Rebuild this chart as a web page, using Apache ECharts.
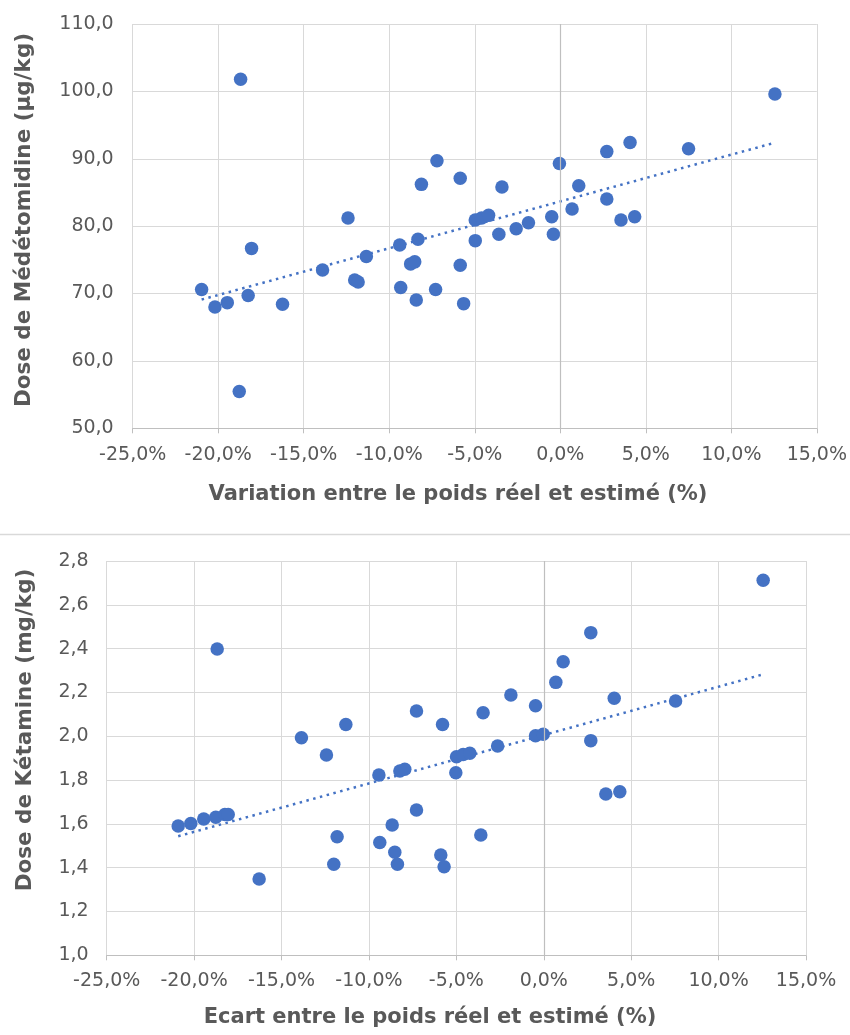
<!DOCTYPE html>
<html>
<head>
<meta charset="utf-8">
<script src="https://cdn.jsdelivr.net/npm/echarts@6/dist/echarts.min.js"></script>
<style>
html,body{margin:0;padding:0;background:#fff;}
#chart{width:850px;height:1035px;}
</style>
</head>
<body>
<div id="chart"></div>
<script>
// ---- Data: Médétomidine chart ----
const xMed = [-20.97,-20.19,-19.47,-18.77,-18.69,-18.25,-18.05,-16.24,-13.9,-12.41,-12.02,-11.82,-11.34,-9.39,-9.33,-8.75,-8.51,-8.42,-8.32,-8.12,-7.29,-7.21,-5.85,-5.85,-5.65,-4.97,-4.97,-4.6,-4.19,-3.59,-3.41,-2.58,-1.86,-0.5,-0.4,-0.05,0.69,1.08,2.72,2.72,3.55,4.08,4.35,7.5,12.55];
const yMed = [70.6,68.0,68.65,55.45,101.8,69.7,76.7,68.4,73.5,81.2,72.0,71.7,75.5,77.2,70.9,74.4,74.7,69.05,78.05,86.2,70.6,89.7,87.1,74.2,68.5,80.9,77.85,81.2,81.6,78.8,85.8,79.6,80.5,81.4,78.8,89.3,82.55,86.0,91.06,84.04,80.9,92.4,81.4,91.5,99.6];
// ---- Data: Kétamine chart ----
const xKet = [-20.91,-20.19,-19.45,-18.76,-18.68,-18.24,-18.05,-16.28,-13.86,-12.43,-12.01,-11.82,-11.32,-9.43,-9.38,-8.67,-8.52,-8.37,-8.23,-7.95,-7.28,-7.28,-5.79,-5.89,-5.7,-4.99,-5.03,-4.61,-4.23,-3.6,-3.47,-2.64,-1.88,-0.47,-0.47,-0.03,0.69,1.11,2.69,2.69,3.55,4.03,4.35,7.54,12.55];
const yKet = [1.59,1.602,1.622,1.63,2.398,1.643,1.643,1.348,1.993,1.914,1.416,1.541,2.054,1.823,1.515,1.595,1.47,1.416,1.841,1.849,2.115,1.663,2.054,1.458,1.404,1.906,1.833,1.917,1.922,1.549,2.107,1.955,2.188,2.139,2.002,2.009,2.246,2.34,2.473,1.98,1.736,2.173,1.747,2.161,2.712];
// ---- Axis ticks ----
const xTicks = {min:-25, max:15, interval:5};
const yMedTicks = {min:50, max:110, interval:10};
const yKetTicks = {min:1.0, max:2.8, interval:0.2};
const titles = {
  xMed: 'Variation entre le poids réel et estimé (%)',
  yMed: 'Dose de Médétomidine (µg/kg)',
  xKet: 'Ecart entre le poids réel et estimé (%)',
  yKet: 'Dose de Kétamine (mg/kg)'
};

function pairs(xs, ys){ return xs.map((x,i)=>[x, ys[i]]); }
function trend(xs, ys){
  const n = xs.length;
  let sx=0, sy=0, sxx=0, sxy=0;
  for(let i=0;i<n;i++){ sx+=xs[i]; sy+=ys[i]; sxx+=xs[i]*xs[i]; sxy+=xs[i]*ys[i]; }
  const b = (n*sxy - sx*sy)/(n*sxx - sx*sx);
  const a = (sy - b*sx)/n;
  const x0 = Math.min(...xs), x1 = Math.max(...xs);
  return [[x0, a+b*x0],[x1, a+b*x1]];
}

const FONT = 'DejaVu Sans';
const BLUE = '#4472C4';
const GRID = '#d9d9d9';
const AXIS = '#bfbfbf';
const TXT = '#595959';
const comma = (v, d) => v.toFixed(d).replace('.', ',');

function xAxisCfg(gridIndex, margin){
  return {
    type:'value', gridIndex, min:xTicks.min, max:xTicks.max, interval:xTicks.interval,
    axisLine:{show:true, onZero:false, lineStyle:{color:AXIS, width:1}},
    axisTick:{show:true, length:5, lineStyle:{color:AXIS}},
    splitLine:{show:true, lineStyle:{color:GRID, width:1}},
    axisLabel:{color:TXT, fontFamily:FONT, fontSize:19, margin, formatter:v=>comma(v,1)+'%'}
  };
}
function yAxisCfg(gridIndex, t, dec, margin){
  return {
    type:'value', gridIndex, min:t.min, max:t.max, interval:t.interval,
    axisLine:{show:false}, axisTick:{show:false},
    splitLine:{show:true, lineStyle:{color:GRID, width:1}},
    axisLabel:{color:TXT, fontFamily:FONT, fontSize:19, margin, formatter:v=>comma(v,dec)}
  };
}
function zeroLine(){
  return {silent:true, symbol:'none', label:{show:false},
    lineStyle:{color:AXIS, type:'solid', width:1.2}, data:[{xAxis:0}]};
}

const chart = echarts.init(document.getElementById('chart'), null, {renderer:'canvas'});
chart.setOption({
  animation:false,
  backgroundColor:'#fff',
  grid:[
    {left:132.7, right:32.3, top:24, bottom:606.7},
    {left:106.7, right:44, top:561, bottom:79.7}
  ],
  xAxis:[xAxisCfg(0,17), xAxisCfg(1,16)],
  yAxis:[yAxisCfg(0,yMedTicks,1,19), yAxisCfg(1,yKetTicks,1,18)],
  graphic:[
    {type:'line', shape:{x1:0,y1:534.5,x2:850,y2:534.5}, style:{stroke:GRID, lineWidth:1.5}},
    {type:'text', x:458, y:495, style:{text:titles.xMed, font:'bold 21px "'+FONT+'"', fill:TXT, textAlign:'center', textVerticalAlign:'middle'}},
    {type:'text', x:430, y:1018, style:{text:titles.xKet, font:'bold 21px "'+FONT+'"', fill:TXT, textAlign:'center', textVerticalAlign:'middle'}},
    {type:'text', x:24, y:220, rotation:Math.PI/2, style:{text:titles.yMed, font:'bold 21.5px "'+FONT+'"', fill:TXT, textAlign:'center', textVerticalAlign:'middle'}},
    {type:'text', x:25, y:730, rotation:Math.PI/2, style:{text:titles.yKet, font:'bold 21.5px "'+FONT+'"', fill:TXT, textAlign:'center', textVerticalAlign:'middle'}}
  ],
  series:[
    {type:'line', xAxisIndex:0, yAxisIndex:0, data:trend(xMed,yMed), showSymbol:false, symbol:'none',
      lineStyle:{color:BLUE, width:2.5, type:[2.5,4.5]}, z:3, markLine:zeroLine()},
    {type:'scatter', xAxisIndex:0, yAxisIndex:0, data:pairs(xMed,yMed), symbolSize:13.5,
      itemStyle:{color:BLUE, opacity:1}, z:4},
    {type:'line', xAxisIndex:1, yAxisIndex:1, data:trend(xKet,yKet), showSymbol:false, symbol:'none',
      lineStyle:{color:BLUE, width:2.5, type:[2.5,4.5]}, z:3, markLine:zeroLine()},
    {type:'scatter', xAxisIndex:1, yAxisIndex:1, data:pairs(xKet,yKet), symbolSize:13.5,
      itemStyle:{color:BLUE, opacity:1}, z:4}
  ]
});
</script>
</body>
</html>
